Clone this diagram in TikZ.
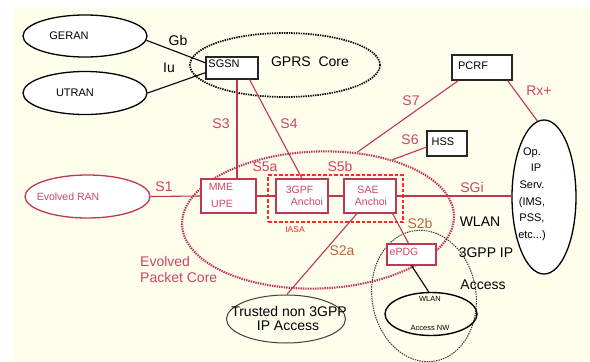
\documentclass[tikz,border=0pt]{standalone}
\usepackage{fontspec}
\setmainfont{Liberation Sans}
\usetikzlibrary{shapes.geometric}
\definecolor{cream}{RGB}{255,253,235}
\definecolor{epc}{RGB}{190,55,85}
\definecolor{lbl}{RGB}{205,70,100}
\definecolor{brn}{RGB}{180,105,55}
\definecolor{iasared}{RGB}{255,40,40}
\begin{document}
\begin{tikzpicture}[x=1pt,y=-1pt,
  every node/.style={font=\fontsize{11}{13}\selectfont, inner sep=0pt},
  bell/.style={ellipse, draw=black, line width=1.3pt, fill=white},
  redbox/.style={rectangle, draw=epc, line width=1.1pt, fill=white},
  blkbox/.style={rectangle, draw=black!85, line width=1.1pt, fill=white},
  rline/.style={draw=epc, line width=1.1pt},
  bline/.style={draw=black, line width=1.1pt},
  rlbl/.style={text=lbl, font=\fontsize{14}{16}\selectfont},
  brlbl/.style={text=brn, font=\fontsize{14}{16}\selectfont},
  blbl/.style={text=black, font=\fontsize{14}{16}\selectfont},
  boxtxt/.style={text=lbl, font=\fontsize{10.5}{12}\selectfont},
  dotell/.style={ellipse, dash pattern=on 1.4pt off 1.0pt}
]
\useasboundingbox (0,0) rectangle (590,362);
\fill[white] (0,0) rectangle (590,362);
\fill[cream] (13,8) rectangle (590,362);

% regions
\node[dotell, draw=black, line width=1.7pt, minimum width=190, minimum height=64] (gprs) at (285,65) {};
\node[dotell, draw=epc, line width=2.1pt, minimum width=272, minimum height=137, rotate=2] (epc) at (318,220) {};
\node[dotell, draw=black!80, line width=1pt, minimum width=104, minimum height=132, rotate=9] (wlanarea) at (424,296) {};

% access networks
\node[bell, minimum width=124, minimum height=42] (geran) at (85,36) {};
\node[bell, minimum width=124, minimum height=43] (utran) at (85,93) {};
\node[ellipse, draw=epc, line width=1.3pt, fill=white, minimum width=125, minimum height=43] (eran) at (87.5,196.5) {};
\node[ellipse, draw=black!75, line width=1pt, minimum width=119, minimum height=48] (trusted) at (286,319) {};
\node[ellipse, draw=black, line width=1.4pt, minimum width=92, minimum height=43] (wlan) at (431,314) {};
\node[bell, minimum width=64, minimum height=154] (opip) at (544,197) {};

% boxes
\node[blkbox, minimum width=52, minimum height=22] (sgsn) at (232,68) {};
\node[blkbox, minimum width=60, minimum height=25] (pcrf) at (482,67.5) {};
\node[blkbox, minimum width=40, minimum height=25] (hss) at (447,143.5) {};
\node[redbox, minimum width=55, minimum height=34] (mme) at (228.5,196) {};
\node[redbox, minimum width=52, minimum height=34] (gpf) at (302,196) {};
\node[redbox, minimum width=52, minimum height=34] (sae) at (370,196) {};
\node[redbox, minimum width=49, minimum height=21] (epdg) at (411.5,254.5) {};
\node[draw=iasared, line width=1.7pt, dash pattern=on 3.5pt off 2pt, minimum width=135, minimum height=47] (iasa) at (335.5,198.5) {};

% connectors
\draw[bline] (geran.-4) -- (sgsn.169);
\draw[bline] (utran.east) -- (sgsn.190);
\draw[rline] ([xshift=5pt]sgsn.south) -- ([xshift=5pt]sgsn.south |- mme.north);
\draw[rline] ([xshift=-9pt]sgsn.south east) -- (gpf.north);
\draw[rline] ([xshift=7pt]pcrf.south west) -- (epc.58);
\draw[rline] (hss.190) -- (epc.37);
\draw[rline] ([xshift=-5pt]pcrf.south east) -- (opip.95);
\draw[rline] (eran.east) -- (mme.west);
\draw[rline] (mme.east) -- (gpf.west);
\draw[rline] (gpf.east) -- (sae.west);
\draw[rline] (sae.east) -- (sae.east -| opip.west);
\draw[rline] ([xshift=-4pt]sae.south east) -- ([xshift=-3pt]epdg.north);
\draw[rline] ([xshift=-13pt]sae.south) -- (trusted.88);
\draw[bline] (epdg.south) -- (wlan.96);

% box texts
\node (geran-t) at (69,36) {GERAN};
\node (utran-t) at (75,93) {UTRAN};
\node[text=lbl, font=\fontsize{10.5}{12}\selectfont] (eran-t) at (68,197) {Evolved RAN};
\node (sgsn-t) at (224,64) {SGSN};
\node (pcrf-t) at (473,66) {PCRF};
\node (hss-t) at (443,142) {HSS};
\node[boxtxt] (mme-t1) at (221,187) {MME};
\node[boxtxt] (mme-t2) at (222,203.5) {UPE};
\node[boxtxt] (gpf-t1) at (299.5,190) {3GPF};
\node[boxtxt] (gpf-t2) at (307,202) {Anchoi};
\node[boxtxt] (sae-t1) at (368,190) {SAE};
\node[boxtxt] (sae-t2) at (371,202) {Anchoi};
\node[boxtxt] (epdg-t) at (404,252) {ePDG};
\node[text=iasared, font=\fontsize{8.5}{10}\selectfont] (iasa-t) at (295,230) {IASA};
\node[font=\fontsize{7.5}{9}\selectfont] (wlan-t1) at (430,298.5) {WLAN};
\node[font=\fontsize{7.5}{9}\selectfont] (wlan-t2) at (430,327.5) {Access NW};
\node[font=\fontsize{14}{16}\selectfont] (tr-t1) at (289,311) {Trusted non 3GPP};
\node[font=\fontsize{14}{16}\selectfont] (tr-t2) at (288,325.5) {IP Access};
\node[align=center, font=\fontsize{11}{16.6}\selectfont] (opip-t) at (532,194) {Op.\\\hspace*{8pt}IP\\Serv.\\(IMS,\\PSS,\\etc...)};
\node[font=\fontsize{14}{16}\selectfont] (gprs-t) at (310,62) {GPRS\ \ Core};

% interface labels
\node[blbl] (gb) at (178,40) {Gb};
\node[blbl] (iu) at (169,68) {Iu};
\node[rlbl] (s3) at (221,124) {S3};
\node[rlbl] (s4) at (289,124) {S4};
\node[rlbl] (s5a) at (265,167) {S5a};
\node[rlbl] (s5b) at (340,166) {S5b};
\node[rlbl] (s7) at (411,101) {S7};
\node[rlbl] (s6) at (410,140) {S6};
\node[rlbl] (rx) at (539,91) {Rx+};
\node[rlbl] (s1) at (164,187) {S1};
\node[rlbl] (sgi) at (472,187) {SGi};
\node[brlbl] (s2b) at (420,223) {S2b};
\node[brlbl] (s2a) at (342,251) {S2a};
\node[blbl] (wl1) at (480,222) {WLAN};
\node[blbl] (wl2) at (486,253) {3GPP IP};
\node[blbl] (wl3) at (483,285) {Access};
\node[rlbl, anchor=west] (epc-t1) at (140,261) {Evolved};
\node[rlbl, anchor=west] (epc-t2) at (140,277) {Packet Core};
\end{tikzpicture}
\end{document}
